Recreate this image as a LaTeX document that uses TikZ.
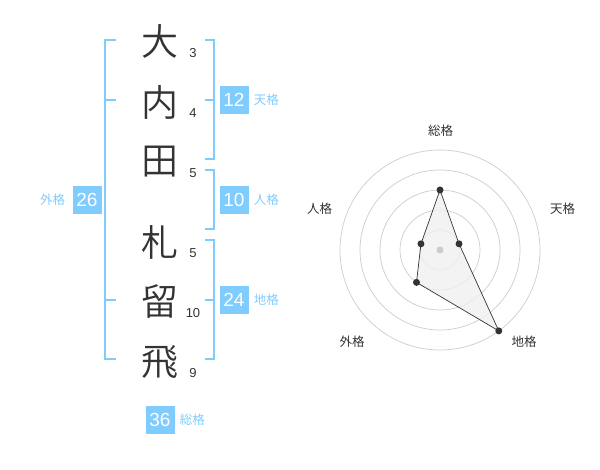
\documentclass[tikz,border=0pt]{standalone}
\usepackage{fontspec}
\setmainfont{Liberation Sans}
\newfontfamily\jpfont{Noto Sans CJK JP}
\newfontfamily\jplight{Noto Sans CJK JP DemiLight}
\usetikzlibrary{positioning,calc}
\definecolor{kakublue}{RGB}{128,204,255}
\definecolor{inkgray}{RGB}{51,51,51}
\definecolor{ringgray}{RGB}{204,204,204}
\definecolor{areagray}{RGB}{240,240,240}

\begin{document}
\begin{tikzpicture}[x=1pt,y=-1pt,
    kanji/.style={text=inkgray, font=\jplight\fontsize{37}{37}\selectfont, inner sep=0pt},
    strokes/.style={text=inkgray, font=\fontsize{13}{13}\selectfont, inner sep=0pt},
    kakubox/.style={fill=kakublue, text=white, font=\fontsize{19}{19}\selectfont, minimum width=29pt, minimum height=28pt, inner sep=0pt},
    kakuname/.style={text=kakublue, font=\jpfont\fontsize{12.5}{12.5}\selectfont, inner sep=0pt},
    bracket/.style={draw=kakublue, line width=2pt},
    ring/.style={draw=ringgray, line width=0.7pt},
    axisname/.style={text=inkgray, font=\jpfont\fontsize{12.5}{12.5}\selectfont, inner sep=0pt},
    dot/.style={circle, fill=inkgray, inner sep=0pt, minimum size=7pt}]
				\useasboundingbox (0,0) rectangle (600,470);
				
				% Name characters
				\node[kanji] (sei1) at (160,41) {大};
				\node[kanji] (sei2) at (160,102) {内};
				\node[kanji] (sei3) at (160,162) {田};
				\node[kanji] (mei1) at (160,242) {札};
				\node[kanji] (mei2) at (160,302) {留};
				\node[kanji] (mei3) at (160,362) {飛};
				
				% Stroke counts
				\node[strokes] (k1) at (193,53) {3};
				\node[strokes] (k2) at (193,113) {4};
				\node[strokes] (k3) at (193,173) {5};
				\node[strokes] (k4) at (193,253) {5};
				\node[strokes] (k5) at (193,313) {10};
				\node[strokes] (k6) at (193,373) {9};
				
				% Brackets
				\draw[bracket] (116,40) -- (105,40) -- (105,359) -- (116,359);
				\draw[bracket] (105,100) -- (116,100);
				\draw[bracket] (105,300) -- (116,300);
				\draw[bracket] (205,40) -- (214,40) -- (214,159) -- (205,159);
				\draw[bracket] (205,100) -- (214,100);
				\draw[bracket] (205,170) -- (214,170) -- (214,229) -- (205,229);
				\draw[bracket] (205,240) -- (214,240) -- (214,359) -- (205,359);
				\draw[bracket] (205,300) -- (214,300);
				
				% Fortune boxes
				\node[kakubox] (gai) at (87,200) {26};
				\node[kakuname, left=7pt of gai] (gainame) {外格};
				\node[kakubox] (ten) at (234,100) {12};
				\node[kakuname, right=5pt of ten] (tenname) {天格};
				\node[kakubox] (jin) at (234,200) {10};
				\node[kakuname, right=5pt of jin] (jinname) {人格};
				\node[kakubox] (chi) at (234,300) {24};
				\node[kakuname, right=5pt of chi] (chiname) {地格};
				\node[kakubox] (sou) at (160,420) {36};
				\node[kakuname, right=5pt of sou] (souname) {総格};
				
				% Radar chart
				\begin{scope}[shift={(440,250)}, y=1pt]
					\draw[ring] (0,0) circle (20);
					\draw[ring] (0,0) circle (40);
					\draw[ring] (0,0) circle (60);
					\draw[ring] (0,0) circle (80);
					\draw[ring] (0,0) circle (100);
					
					\coordinate (psou) at (90:60);
					\coordinate (pten) at (18:20);
					\coordinate (pchi) at (-54:100);
					\coordinate (pgai) at (234:40);
					\coordinate (pjin) at (162:20);
					\fill[areagray, opacity=0.8] (psou) -- (pten) -- (pchi) -- (pgai) -- (pjin) -- cycle;
					\draw[inkgray, line width=0.7pt] (psou) -- (pten) -- (pchi) -- (pgai) -- (pjin) -- cycle;
					\node[circle, fill=ringgray, inner sep=0pt, minimum size=7pt] (mid) at (0,0) {};
					\node[dot] (dsou) at (psou) {};
					\node[dot] (dten) at (pten) {};
					\node[dot] (dchi) at (pchi) {};
					\node[dot] (dgai) at (pgai) {};
					\node[dot] (djin) at (pjin) {};
					
					% Axis names
					\node[axisname] (asou) at (0.5,119.5) {総格};
					\node[axisname] (aten) at (122.5,41.5) {天格};
					\node[axisname] (ajin) at (-120.5,41.5) {人格};
					\node[axisname] (achi) at (84,-92) {地格};
					\node[axisname] (agai) at (-88,-92) {外格};
				\end{scope}
			\end{tikzpicture}
\end{document}
